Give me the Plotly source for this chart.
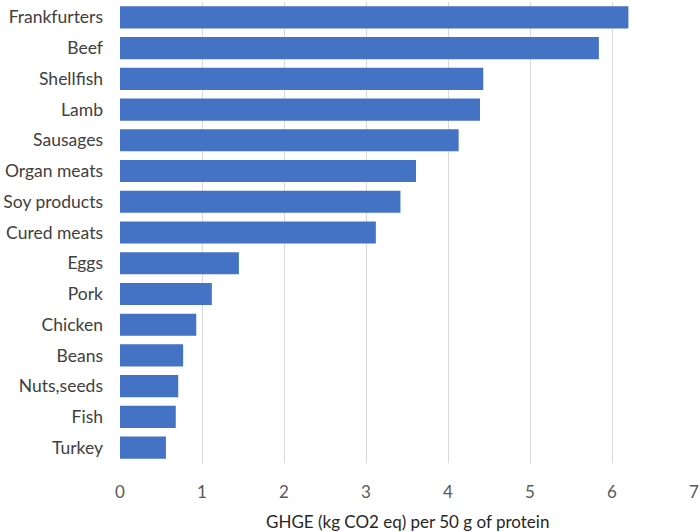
import plotly.graph_objects as go

categories = ["Frankfurters", "Beef", "Shellfish", "Lamb", "Sausages", "Organ meats",
              "Soy products", "Cured meats", "Eggs", "Pork", "Chicken", "Beans",
              "Nuts,seeds", "Fish", "Turkey"]
values = [6.20, 5.84, 4.43, 4.39, 4.13, 3.61, 3.42, 3.12, 1.45, 1.12, 0.93, 0.77, 0.71, 0.68, 0.56]
x_ticks = [0, 1, 2, 3, 4, 5, 6, 7]
x_title = "GHGE (kg CO2 eq) per 50 g of protein"

fig = go.Figure(go.Bar(
    x=values, y=categories, orientation="h",
    marker=dict(color="#4472C4", line=dict(width=0)),
    width=0.72,
))

fig.update_layout(
    width=700, height=532,
    margin=dict(l=120, r=6, t=2, b=69),
    paper_bgcolor="white", plot_bgcolor="white",
    font=dict(family="Lato", size=17.5, color="#595959"),
    showlegend=False,
)
fig.update_xaxes(
    range=[0, 7], tickvals=x_ticks, showgrid=True, gridcolor="#d9d9d9", gridwidth=1,
    zeroline=False, showline=False, ticks="", ticklabelstandoff=17, automargin=False,
    tickfont=dict(size=17, color="#595959"),
)
fig.update_yaxes(
    categoryorder="array", categoryarray=categories[::-1],
    showgrid=False, zeroline=False, showline=False, ticks="", ticklabelstandoff=16,
    automargin=False,
    tickfont=dict(size=17.5, color="#404040"),
)
fig.add_annotation(
    text=x_title, xref="paper", yref="paper", x=0.5, y=-0.126,
    xanchor="center", yanchor="middle", showarrow=False,
    font=dict(size=17, color="#262626"),
)

fig.write_html("out.html", config={"displayModeBar": False},
               post_script="document.body.style.margin='0';document.body.style.overflow='hidden';")
